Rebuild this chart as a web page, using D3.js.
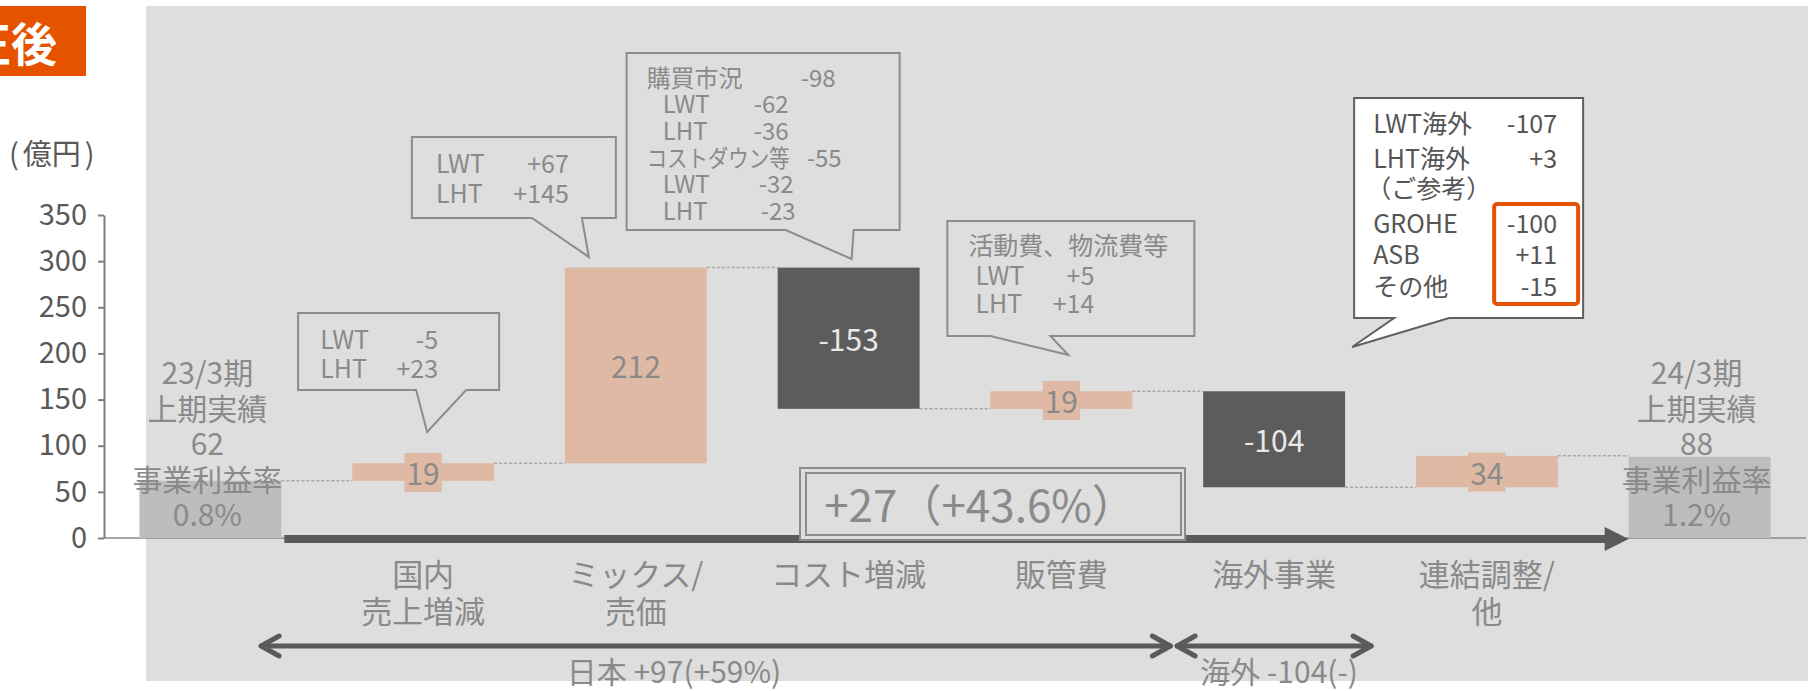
<!DOCTYPE html>
<html>
<head>
<meta charset="utf-8">
<script src="https://cdn.jsdelivr.net/npm/d3@7"></script>
<style>
  body { margin: 0; background: #fff; }
  svg text { font-family: "Noto Sans CJK JP", "Noto Sans", sans-serif; }
</style>
</head>
<body>
<svg id="chart"></svg>
<script>
// ----- data -----
const categoryLabels = [["23/3期", "上期実績"], ["国内", "売上増減"], ["ミックス/", "売価"], ["コスト増減"],
                        ["販管費"], ["海外事業"], ["連結調整/", "他"], ["24/3期", "上期実績"]];
const barValues = [62, 19, 212, -153, 19, -104, 34, 88];
const barKinds = ["total", "delta", "delta", "delta", "delta", "delta", "delta", "total"];
const marginRates = ["0.8%", null, null, null, null, null, null, "1.2%"];
const yTicks = [0, 50, 100, 150, 200, 250, 300, 350];

const domesticDetail = [["LWT", "-5"], ["LHT", "+23"]];
const mixDetail = [["LWT", "+67"], ["LHT", "+145"]];
const costDetail = [["購買市況", "-98"], ["LWT", "-62"], ["LHT", "-36"], ["コストダウン等", "-55"], ["LWT", "-32"], ["LHT", "-23"]];
const sgaDetail = [["活動費、物流費等", ""], ["LWT", "+5"], ["LHT", "+14"]];
const overseasDetail = [["LWT海外", "-107"], ["LHT海外", "+3"], ["（ご参考）", ""], ["GROHE", "-100"], ["ASB", "+11"], ["その他", "-15"]];

const totalChange = "+27（+43.6%）";
const japanSummary = "日本 +97(+59%)";
const overseasSummary = "海外 -104(-)";

// ----- layout -----
const width = 1811, height = 691;
const svg = d3.select("#chart").attr("width", width).attr("height", height);

const keys = categoryLabels.map(d => d.join(""));
const x = d3.scaleBand().domain(keys).range([104, 1806]).paddingInner(0.333).paddingOuter(0.1665);
const y = d3.scaleLinear().domain([0, 350]).range([538, 215]);
const bw = x.bandwidth();
const cx = i => x(keys[i]) + bw / 2;

const salmon = "#dfb9a3", dark = "#5c5c5c", totalGray = "#bdbdbd", textGray = "#8a8a8a";

// running totals for the waterfall
let running = 0;
const bars = barValues.map((v, i) => {
    let b;
    if (barKinds[i] === "total") { b = { y0: 0, y1: v }; running = v; }
    else { b = { y0: running, y1: running + v }; running += v; }
    return Object.assign(b, { i: i, v: v, kind: barKinds[i] });
});

// background panel
svg.append("rect").attr("x", 146).attr("y", 6).attr("width", 1662).attr("height", 675).attr("fill", "#dedede");

// title tab (text is cut by the left edge as in the slide)
svg.append("rect").attr("x", 0).attr("y", 6).attr("width", 86).attr("height", 70).attr("fill", "#e65300");
svg.append("text").attr("x", 57).attr("y", 41).attr("text-anchor", "end").attr("dominant-baseline", "central")
    .attr("font-size", 46).attr("font-weight", "bold").attr("fill", "#fff").text("修正後");

// unit
const unit = svg.append("text").attr("x", 9).attr("y", 152).attr("dominant-baseline", "central")
    .attr("font-size", 29).attr("fill", "#595959");
unit.append("tspan").text("(");
unit.append("tspan").attr("dx", 4).text("億円");
unit.append("tspan").attr("dx", 4).text(")");

// y axis
const yAxis = svg.append("g").attr("transform", "translate(104,0)")
    .call(d3.axisLeft(y).tickValues(yTicks).tickSize(6).tickSizeOuter(0).tickPadding(11));
yAxis.selectAll("path, line").attr("stroke", "#7f7f7f").attr("stroke-width", 2);
yAxis.selectAll("text").attr("font-size", 29).attr("fill", "#595959");

// thin baseline
svg.append("line").attr("x1", 104).attr("x2", 1806).attr("y1", y(0)).attr("y2", y(0))
    .attr("stroke", "#8a8a8a").attr("stroke-width", 1.5);

// thick arrow along the baseline
const arrowX0 = x(keys[0]) + bw + 3, arrowX1 = x(keys[7]);
svg.append("line").attr("x1", arrowX0).attr("x2", arrowX1 - 22).attr("y1", y(0) + 1).attr("y2", y(0) + 1)
    .attr("stroke", "#5a5a5a").attr("stroke-width", 8);
svg.append("path").attr("d", `M${arrowX1 - 24},${y(0) - 11} L${arrowX1},${y(0) + 1} L${arrowX1 - 24},${y(0) + 13} Z`)
    .attr("fill", "#5a5a5a");

// connectors
svg.append("g").selectAll("line").data(bars.slice(0, -1)).enter().append("line")
    .attr("x1", d => x(keys[d.i]) + bw).attr("x2", d => x(keys[d.i + 1]))
    .attr("y1", d => y(d.y1)).attr("y2", d => y(d.y1))
    .attr("stroke", "#a8a8a8").attr("stroke-width", 1.5).attr("stroke-dasharray", "3,2");

// bars
svg.append("g").selectAll("rect").data(bars).enter().append("rect")
    .attr("x", d => x(keys[d.i])).attr("width", bw)
    .attr("y", d => y(Math.max(d.y0, d.y1)))
    .attr("height", d => Math.abs(y(d.y0) - y(d.y1)))
    .attr("fill", d => d.kind === "total" ? totalGray : (d.v > 0 ? salmon : dark));

// delta labels
const labelG = svg.append("g");
bars.filter(d => d.kind === "delta").forEach(d => {
    const my = (y(d.y0) + y(d.y1)) / 2;
    const t = labelG.append("text").attr("x", cx(d.i)).attr("y", my)
        .attr("text-anchor", "middle").attr("dominant-baseline", "central")
        .attr("font-size", 30).attr("fill", d.v > 0 ? textGray : "#e8e8e8").text(d.v);
    if (Math.abs(y(d.y0) - y(d.y1)) < 34) {
        const bb = t.node().getBBox();
        labelG.insert("rect", "text").attr("x", bb.x - 2).attr("y", my - 19)
            .attr("width", bb.width + 4).attr("height", 39).attr("fill", salmon);
    }
});

// total labels
bars.filter(d => d.kind === "total").forEach(d => {
    const lines = [categoryLabels[d.i][0], categoryLabels[d.i][1], String(d.v), "事業利益率", marginRates[d.i]];
    lines.forEach((s, k) => {
        svg.append("text").attr("x", cx(d.i) - 3).attr("y", y(0) - 25 - (lines.length - 1 - k) * 35.5)
            .attr("text-anchor", "middle").attr("dominant-baseline", "central")
            .attr("font-size", 30).attr("fill", textGray).text(s);
    });
});

// category labels
categoryLabels.forEach((lines, i) => {
    if (barKinds[i] === "total") return;
    lines.forEach((s, k) => {
        svg.append("text").attr("x", cx(i)).attr("y", 572 + k * 37)
            .attr("text-anchor", "middle").attr("dominant-baseline", "central")
            .attr("font-size", 31).attr("fill", textGray).text(s);
    });
});

// callouts
function callout(spec) {
    const c = cx(spec.i);
    const x0 = c + spec.box[0], x1 = c + spec.box[1];
    const g = svg.append("g");
    g.append("path")
        .attr("d", `M${x0},${spec.y0} H${x1} V${spec.y1} H${c + spec.base[1]} L${c + spec.tip[0]},${spec.tip[1]} L${c + spec.base[0]},${spec.y1} H${x0} Z`)
        .attr("fill", spec.fill || "none").attr("stroke", spec.stroke || "#8c8c8c").attr("stroke-width", 2);
    spec.rows.forEach((r, k) => {
        const t = g.append("text").attr("x", x0 + spec.labelDx[k]).attr("y", spec.ys[k]).attr("dominant-baseline", "central")
            .attr("font-size", spec.size).attr("fill", spec.color || textGray).text(r[0]);
        if (spec.squeeze && spec.squeeze[k]) t.attr("textLength", spec.squeeze[k]).attr("lengthAdjust", "spacingAndGlyphs");
        if (r[1]) g.append("text").attr("x", x0 + spec.valueDx[k]).attr("y", spec.ys[k])
            .attr("text-anchor", "end").attr("dominant-baseline", "central")
            .attr("font-size", spec.size).attr("fill", spec.color || textGray).text(r[1]);
    });
    return g;
}

callout({ i: 1, box: [-125, 76], y0: 313, y1: 390, base: [-7, 43], tip: [4, 432], rows: domesticDetail,
    labelDx: [22, 22], valueDx: [140, 140], ys: [338, 367], size: 25 });
callout({ i: 2, box: [-224, -20], y0: 137, y1: 218, base: [-104, -54], tip: [-47, 257], rows: mixDetail,
    labelDx: [24, 24], valueDx: [157, 157], ys: [162, 192], size: 25 });
callout({ i: 3, box: [-222, 51], y0: 53, y1: 230, base: [-63, 5], tip: [3, 259], rows: costDetail,
    labelDx: [20, 36, 36, 20, 36, 36], valueDx: [209, 162, 162, 215, 167, 169], ys: [76, 102, 129, 156, 182, 209],
    size: 24, squeeze: [0, 0, 0, 143, 0, 0] });
callout({ i: 4, box: [-114, 133], y0: 221, y1: 336, base: [-71, -11], tip: [7, 355], rows: sgaDetail,
    labelDx: [21, 28, 28], valueDx: [0, 147, 147], ys: [244, 274, 302], size: 25, squeeze: [200, 0, 0] });
const ov = callout({ i: 5, box: [80, 309], y0: 98, y1: 318, base: [120, 175], tip: [78, 347], rows: overseasDetail,
    labelDx: [19, 19, 12, 19, 19, 19], valueDx: [203, 203, 203, 203, 203, 203], ys: [122, 157, 187, 222, 253, 285],
    size: 25, fill: "#fff", stroke: "#5f5f5f", color: "#555" });
// highlight of the reference breakdown values
ov.append("rect").attr("x", cx(5) + 220).attr("y", 204).attr("width", 84).attr("height", 100).attr("rx", 3)
    .attr("fill", "none").attr("stroke", "#e35205").attr("stroke-width", 4);

// total change box
const boxG = svg.append("g");
boxG.append("rect").attr("x", 800).attr("y", 468).attr("width", 385).attr("height", 72)
    .attr("fill", "#dedede").attr("stroke", "#8c8c8c").attr("stroke-width", 2);
boxG.append("rect").attr("x", 806).attr("y", 473).attr("width", 375).attr("height", 62)
    .attr("fill", "none").attr("stroke", "#8c8c8c").attr("stroke-width", 2);
boxG.append("text").attr("x", 980).attr("y", 503).attr("text-anchor", "middle").attr("dominant-baseline", "central")
    .attr("font-size", 44).attr("fill", textGray).text(totalChange);

// segment arrows (Japan / overseas)
function doubleArrow(xa, xb, yy) {
    const g = svg.append("g").attr("stroke", "#5a5a5a").attr("stroke-width", 5).attr("fill", "none")
        .attr("stroke-linecap", "round").attr("stroke-linejoin", "round");
    g.append("line").attr("x1", xa + 2).attr("x2", xb - 2).attr("y1", yy).attr("y2", yy);
    g.append("path").attr("d", `M${xa + 20},${yy - 10} L${xa + 2},${yy} L${xa + 20},${yy + 10}`);
    g.append("path").attr("d", `M${xb - 20},${yy - 10} L${xb - 2},${yy} L${xb - 20},${yy + 10}`);
}
doubleArrow(cx(1) - 164, cx(4) + 111, 646);
doubleArrow(cx(5) - 99, cx(5) + 99, 646);

svg.append("text").attr("x", 674).attr("y", 670).attr("text-anchor", "middle").attr("dominant-baseline", "central")
    .attr("font-size", 30).attr("fill", textGray).text(japanSummary);
svg.append("text").attr("x", cx(5) + 5).attr("y", 670).attr("text-anchor", "middle").attr("dominant-baseline", "central")
    .attr("font-size", 30).attr("fill", textGray).text(overseasSummary);
</script>
</body>
</html>
